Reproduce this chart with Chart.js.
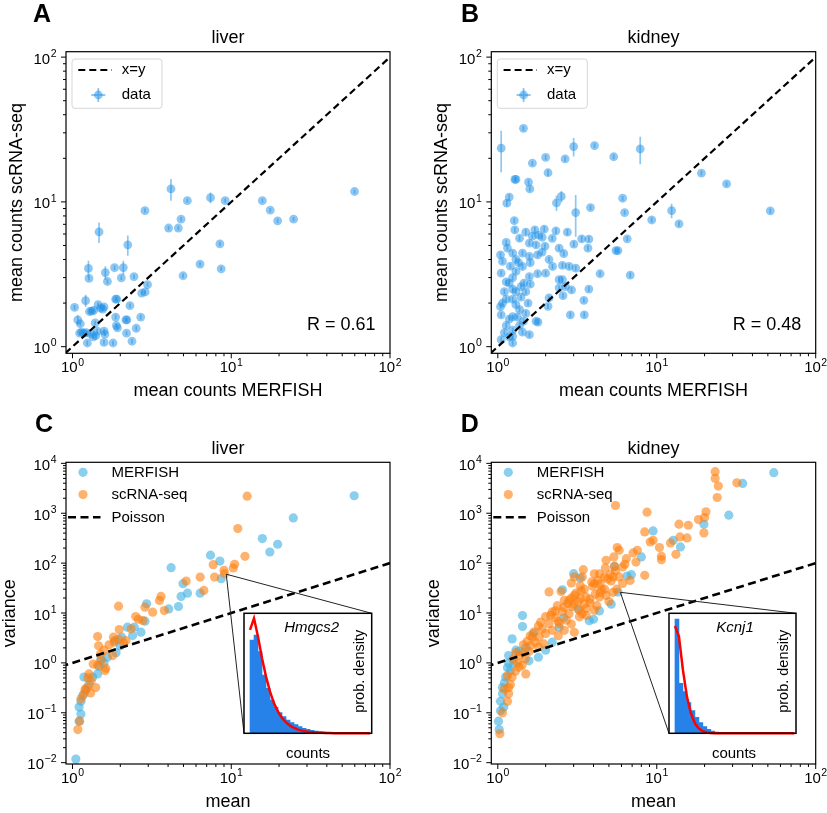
<!DOCTYPE html>
<html><head><meta charset="utf-8">
<script src="https://cdn.jsdelivr.net/npm/chart.js@4.4.1/dist/chart.umd.min.js"></script>
<style>
html,body{margin:0;padding:0;background:#fff;}
#wrap{position:relative;width:827px;height:813px;overflow:hidden;background:#fff;}
canvas{position:absolute;}
</style></head><body>
<div id="wrap">
<canvas id="cA" width="414" height="406" style="left:0px;top:0px"></canvas>
<canvas id="cB" width="413" height="406" style="left:414px;top:0px"></canvas>
<canvas id="cC" width="414" height="407" style="left:0px;top:406px"></canvas>
<canvas id="cD" width="413" height="407" style="left:414px;top:406px"></canvas>
<canvas id="iC" width="140" height="160" style="left:240px;top:605px"></canvas>
<canvas id="iD" width="140" height="160" style="left:665px;top:605px"></canvas>
</div>
<script>
// ---------------- DATA ----------------
// Panel A: liver, mean counts MERFISH (x) vs scRNA-seq (y), with y error
const liverCmpX = [4.17,7.4,1.47,2.23,1.26,1.61,2.09,1.21,1.08,
  59.8,5.29,9.16,15.7,17.6,19.6,24.7,
  2.86,4.03,4.64,4.83,8.48,6.36,8.64,4.97,
  1.27,1.66,1.84,2.03,2.44,2.97,2.73,2.87,
  1.03,1.45,1.58,1.32,1.36,1.87,1.9,2.3,
  1.12,1.39,1.87,1.89,2.2,2.17,2.69,1.92,
  1.11,1.18,1.22,1.3,1.4,1.43,1.58,1.35,
  1.24,1.58,1.8,2.19,2.52,2.37,1.14,1.5,1.55,1.28,1.6];
const liverCmpY = [12.3,10.7,6.2,5.05,3.47,3.25,3.52,2.08,1.53,
  11.8,10.2,10.2,10.2,8.77,7.4,7.6,
  8.7,6.6,6.6,7.6,5.13,3.72,3.45,3.09,
  2.96,2.82,3.51,2.99,3.05,2.68,2.34,2.39,
  1.87,1.95,1.88,1.76,1.78,2.13,2.13,1.92,
  1.44,1.46,1.6,1.4,1.53,1.53,1.6,1.35,
  1.24,1.24,1.25,1.23,1.19,1.28,1.28,1.17,
  1.06,1.07,1.06,1.24,1.34,1.09,1.26,1.85,1.82,1.75,1.22];
const liverCmpErr = [2.1,0.9,1.0,0.8,0.45,0.35,0.4,0.2,0.12,
  0.4,0.35,0.35,0.35,0.3,0.25,0.25,
  0.3,0.22,0.22,0.26,0.18,0.13,0.12,0.11,
  0.1,0.1,0.12,0.1,0.1,0.09,0.08,0.08,
  0.07,0.07,0.07,0.06,0.06,0.07,0.07,0.07,
  0.05,0.05,0.06,0.05,0.05,0.05,0.06,0.05,
  0.04,0.04,0.04,0.04,0.04,0.05,0.05,0.04,
  0.04,0.04,0.04,0.04,0.05,0.04,0.04,0.06,0.06,0.06,0.04];
const liverR = 'R = 0.61';

// Panel B: kidney
const kidneyCmpX = [1.05,3.0,7.87,12.4,3.09,2.51,2.34,
  1.45,4.06,5.36,2.65,2.0,1.65,2.07,1.3,1.28,1.56,1.59,19.1,27.5,51.8,13.8,9.3,6.1,6.28,6.52,5.54,5.7,4.4,6.81,3.83,1.18,1.14,1.27,1.28,
  2.74,2.32,1.96,1.71,1.5,3.74,3.37,3.01,2.43,1.98,1.74,1.37,1.13,1.58,3.69,1.04,1.07,1.24,1.43,1.58,1.78,2.55,2.81,3.09,2.21,2.0,1.78,1.58,1.43,1.3,1.05,
  2.43,2.55,2.67,2.91,2.43,3.74,2.57,2.1,2.07,3.48,2.86,3.5,1.74,1.79,1.58,1.24,1.05,1.18,1.13,1.05,1.04,1.24,1.37,1.43,1.24,1.18,1.3,1.4,1.24,1.13,1.07,1.5,1.37,1.5,1.24,1.13,1.3,1.46,1.55,1.18,1.1,1.24,1.33,1.24,
  1.2,1.35,1.6,1.9,2.2,1.65,1.9,2.6,1.1,1.4,1.6,1.3,1.45,1.15,1.8,2.1];
const kidneyCmpY = [23.5,24.1,23.2,8.7,8.44,10.9,9.84,
  32.2,24.5,20.5,19.8,20.3,18.5,15.9,14.3,14.3,13.7,12.3,15.8,13.3,8.67,7.05,7.5,10.6,8.44,5.56,4.61,4.61,3.19,3.12,9.14,10.8,9.8,7.43,6.41,
  6.18,6.31,6.48,6.41,6.18,5.53,5.56,5.11,4.79,4.94,5.05,5.61,5.25,5.19,4.79,4.31,3.88,4.43,4.43,4.2,4.31,3.64,3.58,3.49,3.58,3.22,3.19,3.05,3.58,3.31,3.22,
  2.9,2.9,2.6,2.47,2.55,2.5,2.25,2.17,1.9,2.09,1.66,1.66,1.5,1.48,1.21,1.06,1.12,1.17,1.4,1.66,1.89,1.61,1.4,1.26,2.5,2.75,2.4,2.6,2.13,2.13,2.0,2.4,1.8,1.7,3.0,2.8,4.0,2.75,2.0,1.55,1.25,1.3,1.6,1.18,
  3.6,3.8,3.8,4.5,5.6,5.8,5.7,4.4,2.4,2.2,2.7,1.95,1.5,4.8,5.9,4.0];
const kidneyCmpErr = [7.5,3.5,5,1,2.7,1,1.2,
  1.2,0.9,0.8,0.8,0.8,0.7,0.8,0.5,0.5,0.5,0.5,0.6,0.5,0.35,0.3,0.3,0.4,0.3,0.22,0.18,0.18,0.13,0.13,0.35,0.5,0.5,0.3,0.3,
  0.3,0.3,0.3,0.3,0.3,0.25,0.25,0.22,0.2,0.2,0.22,0.25,0.22,0.22,0.2,0.18,0.16,0.18,0.18,0.17,0.18,0.15,0.15,0.14,0.15,0.13,0.13,0.12,0.15,0.13,0.13,
  0.12,0.12,0.1,0.1,0.1,0.1,0.09,0.09,0.08,0.08,0.07,0.07,0.06,0.06,0.05,0.04,0.05,0.05,0.06,0.07,0.08,0.06,0.06,0.05,0.1,0.11,0.1,0.1,0.09,0.09,0.08,0.1,0.07,0.07,0.12,0.11,0.16,0.11,0.08,0.06,0.05,0.05,0.06,0.05,
  0.15,0.15,0.15,0.18,0.22,0.23,0.23,0.18,0.1,0.09,0.11,0.08,0.06,0.19,0.24,0.16];
const kidneyR = 'R = 0.48';

// Panel C: liver mean vs variance
const liverMerMean = [59.5,24.6,15.7,19.6,17.5,7.4,8.48,4.18,8.64,4.97,5.3,4.83,6.37,4.65,4.04,2.93,2.86,2.45,2.7,2.22,2.39,2.04,1.85,2.0,1.88,1.66,1.58,1.47,1.44,1.34,1.27,1.21,1.16,1.13,1.1,1.13,1.1,1.05,1.18,1.51];
const liverMerVar  = [2240,807,311,239,167,144,110,81,48.7,38.7,25,21.5,25,13.5,12.1,15.3,6.85,5.2,4.12,5.2,3.53,3.27,2.8,2.2,1.6,1.3,1.0,0.85,0.6,0.52,0.37,0.28,0.22,0.17,0.13,0.094,0.068,0.0118,0.52,1.2];
const liverScMean = [12.6,11.0,12.2,10.5,10.3,9.0,9.07,7.7,7.85,6.37,6.72,5.2,3.61,3.53,3.79,3.2,2.86,2.77,1.95,1.97,2.34,1.44,1.81,1.83,2.17,1.46,1.58,1.79,1.51,1.62,1.6,1.44,1.27,1.31,1.24,1.18,1.13,1.11,1.08,1.4,2.6,2.5,1.95,2.1,1.7,1.5,1.35,1.25,1.2,1.3];
const liverScVar  = [2200,493,137,94.6,79.8,71.6,61.4,93,52.6,52.6,28.4,43.7,21.5,17.9,11.2,10.4,13.1,7.08,13.7,4.67,4.81,3.37,3.27,2.6,2.8,2.2,1.8,1.4,1.1,0.78,0.7,0.9,0.6,0.44,0.32,0.24,0.19,0.068,0.046,0.32,7.5,8.5,3.0,2.5,2.3,1.5,0.95,0.5,0.3,0.25];

// Panel D: kidney mean vs variance
const kidneyMerMean = [54.5,34.7,28.4,19.8,12.7,14.1,9.48,8.0,6.92,5.42,3.0,3.3,5.7,2.55,1.43,1.43,1.23,1.67,1.36,1.17,1.26,1.12,1.07,1.04,1.01,1.02,1.04,1.2,2.0,2.2,2.43,3.76,4.36,5.17,1.8,1.57,1.17,1.09,1.07,1.3,1.5,2.6,3.2,4.0,6.5,1.15,1.1];
const kidneyMerVar  = [6490,3960,914,602,287,211,443,133,58.6,86,61.4,50.2,26.3,29.2,8.9,5.36,3.03,3.93,1.7,1.4,1.0,0.52,0.32,0.17,0.068,0.046,0.11,0.7,1.8,2.6,5.1,7.0,11,15,1.3,1.1,1.0,0.13,0.24,1.8,2.0,8,12,7.5,55,0.8,0.4];
const kidneyScMean = [23.3,23.3,24.4,31.9,24.0,5.5,8.69,20.4,18.3,20.0,
  13.8,15.8,19.8,8.4,9.48,9.1,14.0,15.5,12.2,10.4,
  10.7,10.7,13.2,7.55,5.64,5.8,5.37,4.8,6.43,7.4,
  6.1,5.42,8.4,4.75,4.36,4.05,3.45,3.4,3.03,5.3,
  5.8,4.69,4.26,5.17,6.1,4.06,3.95,3.34,2.1,2.5,
  3.03,2.81,3.59,4.36,4.8,5.0,5.3,2.37,2.62,2.94,
  3.26,3.59,4.05,3.26,3.4,2.81,2.55,2.2,1.86,2.1,
  2.43,2.7,3.03,2.62,2.2,2.0,1.82,1.65,1.53,1.72,
  1.95,1.57,1.8,1.37,1.49,1.36,1.29,1.5,1.23,1.2,
  1.17,1.15,1.07,1.03,1.33,1.42,1.17,
  3.0,3.8,4.5,2.3,2.9,3.6,4.2,5.6,6.8,1.9,2.4,1.6,2.9,3.3,4.9,1.45,
  2.9,3.2,3.5,3.8,4.1,4.4,4.7,3.1,2.6,2.3,2.0,1.8,1.7,2.4,3.5,3.9,4.4,5.1,5.5,6.3,2.75,3.3,2.15,1.6,1.45,1.3,1.25,1.15,1.1,7.1];
const kidneyScVar = [6800,4990,3500,4080,2070,1430,1050,1070,748,820,
  603,575,404,423,287,265,335,320,254,205,
  137,117,150,181,205,181,133,114,123,105,
  84,87,57,80,61,61,74,53,53,53,
  53,53,45,44,39,39,34.5,28,26.5,27,
  22.5,18,21,21,22.5,17,26,14,18,13.4,
  11.3,12.3,11.3,8.4,9.7,9.7,10.5,10.5,6.6,6.1,
  6.1,7.2,4.1,4.5,4.5,3.9,3.3,3.3,2.7,2.6,
  2.4,1.7,2.1,1.4,1.2,0.82,0.68,0.6,0.52,0.37,
  0.24,0.17,0.1,0.038,1.0,0.9,0.32,
  15,16,30,8,6,9,14,30,45,4.8,3.5,2.2,40,35,48,1.6,
  20,17,15,19,24,26,30,25,13,11,8.5,5.5,4.2,6.8,30,42,38,60,70,95,15.5,19.5,9,3.5,2.3,1.6,1.2,0.55,0.3,160];

// reference lines (x = y  /  Poisson: variance = mean)
const identityX = [0.5, 200];
const identityY = [0.5, 200];

// insets: count histograms and fits
const countsGrid = [0,1,2,3,4,5,6,7,8,9,10,11,12,13,14,15,16,17,18,19,20,21,22,23,24,25,26,27,28,29,30];
const hmgcs2Hist = [280,295,245,175,135,100,78,62,50,40,32,26,20,15,12,9,7,5,4,3,2,2,1,1,1];
const hmgcs2Fit  = [310,345,290,225,170,125,90,65,46,33,23,16,11,8,5.5,4,2.8,2,1.4,1,0.7,0.5,0.3,0.2,0.1,0.05,0,0,0,0,0];
const kcnj1Hist  = [343,150,125,92,68,48,32,20,12,7,4,2,1,1];
const kcnj1Fit   = [322,290,190,110,60,30,14,6,2.5,1,0.4,0.1,0,0,0,0,0,0,0,0,0,0,0,0,0,0,0,0,0,0,0];
const hmgcs2Anchor = {x: 9.3, y: 60};
const kcnj1Anchor  = {x: 5.9, y: 26};

// ticks
const xMajor = [1, 10, 100];          const xExp = ['0','1','2'];
const abYMajor = [1, 10, 100];        const abYExp = ['0','1','2'];
const cdYMajor = [0.01,0.1,1,10,100,1000,10000]; const cdYExp = ['\u22122','\u22121','0','1','2','3','4'];
const minorSubs = [2,3,4,5,6,7,8,9];

// ---------------- STYLE ----------------
const FONT = '"Liberation Sans", Arial, Helvetica, "DejaVu Sans", sans-serif';
const BLUE_AB = 'rgba(30,144,230,0.5)';
const BLUE_CD = 'rgba(60,175,225,0.6)';
const ORANGE = 'rgba(255,127,14,0.6)';

function pts(xs, ys){ return xs.map((x,i)=>({x:x, y:ys[i]})); }

function supLabel(ctx, exp, x, y, align){
  ctx.font = '15px ' + FONT; const w1 = ctx.measureText('10').width;
  ctx.font = '10.5px ' + FONT; const w2 = ctx.measureText(exp).width;
  const W = w1 + w2 + 0.5;
  const x0 = align === 'center' ? x - W/2 : x - W;
  ctx.textAlign = 'left'; ctx.textBaseline = 'alphabetic';
  ctx.font = '15px ' + FONT; ctx.fillText('10', x0, y);
  ctx.font = '10.5px ' + FONT; ctx.fillText(exp, x0 + w1 + 0.5, y - 6.8);
}

function drawDeco(chart, cfg){
  const ctx = chart.ctx, a = chart.chartArea, xs = chart.scales.x, ys = chart.scales.y;
  ctx.save();
  ctx.fillStyle = '#000'; ctx.strokeStyle = '#000';
  if (cfg.anchor){
    const px = xs.getPixelForValue(cfg.anchor.x), py = ys.getPixelForValue(cfg.anchor.y);
    ctx.lineWidth = 1; ctx.strokeStyle = '#222';
    ctx.beginPath();
    ctx.moveTo(px, py); ctx.lineTo(cfg.insetBL[0] - cfg.off[0], cfg.insetBL[1] - cfg.off[1]);
    ctx.moveTo(px, py); ctx.lineTo(cfg.insetTR[0] - cfg.off[0], cfg.insetTR[1] - cfg.off[1]);
    ctx.stroke();
    ctx.strokeStyle = '#000';
  }
  ctx.lineWidth = 1.2;
  ctx.strokeRect(a.left, a.top, a.right - a.left, a.bottom - a.top);
  ctx.lineWidth = 1;
  const ticks = (scale, majors, horiz) => {
    majors.forEach(m => {
      [1].concat(minorSubs).forEach(k => {
        const v = m * k;
        if (v < scale.min * 0.9999 || v > scale.max * 1.0001) return;
        const p = scale.getPixelForValue(v);
        const len = k === 1 ? 5 : 3;
        ctx.beginPath();
        if (horiz){ ctx.moveTo(p, a.bottom); ctx.lineTo(p, a.bottom + len); }
        else { ctx.moveTo(a.left, p); ctx.lineTo(a.left - len, p); }
        ctx.stroke();
      });
    });
  };
  ticks(xs, xMajor, true);
  ticks(ys, cfg.yMajor, false);
  xMajor.forEach((v,i) => supLabel(ctx, xExp[i], xs.getPixelForValue(v), a.bottom + 19, 'center'));
  cfg.yMajor.forEach((v,i) => supLabel(ctx, cfg.yExp[i], a.left - 9.5, ys.getPixelForValue(v) + 6.5, 'right'));
  ctx.font = '18px ' + FONT; ctx.textAlign = 'center'; ctx.textBaseline = 'alphabetic';
  ctx.fillText(cfg.title, (a.left + a.right)/2, a.top - 8.4);
  ctx.fillText(cfg.xlabel, (a.left + a.right)/2, a.bottom + 43);
  ctx.save();
  ctx.translate(a.left - cfg.ylabOff, (a.top + a.bottom)/2);
  ctx.rotate(-Math.PI/2);
  ctx.fillText(cfg.ylabel, 0, 0);
  ctx.restore();
  ctx.font = 'bold 25px ' + FONT; ctx.textAlign = 'left';
  ctx.fillText(cfg.letter, cfg.letterX, a.top - 30);
  if (cfg.rText){
    ctx.font = '18px ' + FONT; ctx.textAlign = 'right';
    ctx.fillText(cfg.rText, a.right - 14.5, a.bottom - 23);
  }
  ctx.textAlign = 'left'; ctx.textBaseline = 'middle';
  if (cfg.legend === 'ab'){
    const L = a.left, T = a.top;
    ctx.beginPath();
    if (ctx.roundRect) ctx.roundRect(L + 6, T + 7.3, 90, 49.3, 3); else ctx.rect(L + 6, T + 7.3, 90, 49.3);
    ctx.fillStyle = 'rgba(255,255,255,0.8)'; ctx.fill();
    ctx.strokeStyle = '#d6d6d6'; ctx.lineWidth = 1; ctx.stroke();
    ctx.strokeStyle = '#000'; ctx.lineWidth = 2.2; ctx.setLineDash([7,4]);
    ctx.beginPath(); ctx.moveTo(L + 12.3, T + 18.3); ctx.lineTo(L + 45.7, T + 18.3); ctx.stroke();
    ctx.setLineDash([]);
    const mx = L + 32.3, my = T + 43.3;
    ctx.strokeStyle = BLUE_AB; ctx.lineWidth = 1.8;
    ctx.beginPath(); ctx.moveTo(mx - 7, my); ctx.lineTo(mx + 7, my); ctx.moveTo(mx, my - 7); ctx.lineTo(mx, my + 7); ctx.stroke();
    ctx.fillStyle = BLUE_AB; ctx.beginPath(); ctx.arc(mx, my, 4.4, 0, Math.PI*2); ctx.fill();
    ctx.fillStyle = '#000'; ctx.font = '15px ' + FONT;
    ctx.fillText('x=y', L + 55.7, T + 18.3);
    ctx.fillText('data', L + 55.7, T + 43.3);
  } else if (cfg.legend === 'cd'){
    const L = a.left, T = a.top;
    ctx.font = '15px ' + FONT;
    ctx.fillStyle = BLUE_CD; ctx.beginPath(); ctx.arc(L + 17, T + 10, 4.6, 0, Math.PI*2); ctx.fill();
    ctx.fillStyle = ORANGE; ctx.beginPath(); ctx.arc(L + 17, T + 32.3, 4.6, 0, Math.PI*2); ctx.fill();
    ctx.strokeStyle = '#000'; ctx.lineWidth = 2.6; ctx.setLineDash([8,4.5]);
    ctx.beginPath(); ctx.moveTo(L + 2, T + 55); ctx.lineTo(L + 34.5, T + 55); ctx.stroke();
    ctx.setLineDash([]);
    ctx.fillStyle = '#000';
    ctx.fillText('MERFISH', L + 45.5, T + 10.5);
    ctx.fillText('scRNA-seq', L + 45.5, T + 32.8);
    ctx.fillText('Poisson', L + 45.5, T + 55.5);
  }
  ctx.restore();
}

function drawErrors(chart, cfg){
  if (!cfg.err) return;
  const ctx = chart.ctx, a = chart.chartArea, xs = chart.scales.x, ys = chart.scales.y;
  ctx.save();
  ctx.beginPath(); ctx.rect(a.left, a.top, a.right - a.left, a.bottom - a.top); ctx.clip();
  ctx.strokeStyle = BLUE_AB; ctx.lineWidth = 1.7;
  cfg.errX.forEach((x,i) => {
    const px = xs.getPixelForValue(x);
    const y = cfg.errY[i], e = cfg.err[i];
    ctx.beginPath();
    ctx.moveTo(px, ys.getPixelForValue(y - e));
    ctx.lineTo(px, ys.getPixelForValue(y + e));
    ctx.stroke();
  });
  ctx.restore();
}

function makeMain(id, cfg){
  return new Chart(document.getElementById(id), {
    type: 'scatter',
    data: { datasets: cfg.datasets },
    options: {
      responsive: false, animation: false, events: [],
      layout: { padding: cfg.padding },
      plugins: { legend: {display:false}, tooltip: {enabled:false}, title: {display:false} },
      scales: {
        x: { type:'logarithmic', min: 0.91, max: 100, display: false },
        y: { type:'logarithmic', min: cfg.yMin, max: cfg.yMax, display: false }
      }
    },
    plugins: [{ id:'deco_' + id,
      beforeDatasetsDraw(c){ drawErrors(c, cfg); },
      afterDraw(c){ drawDeco(c, cfg); } }]
  });
}

function lineDs(dash, width){
  return { data: pts(identityX, identityY), showLine: true, borderColor: '#000', borderWidth: width,
    borderDash: dash, pointRadius: 0, fill: false, order: 0, clip: 0 };
}
function dotDs(xs, ys, color, r, order){
  return { data: pts(xs, ys), backgroundColor: color, borderWidth: 0, pointRadius: r,
    pointHoverRadius: r, showLine: false, order: order };
}

makeMain('cA', {
  padding: {left:66, right:24, top:51.7, bottom:52.7},
  yMin: 0.9, yMax: 109, yMajor: abYMajor, yExp: abYExp,
  datasets: [lineDs([7,4], 2.2), dotDs(liverCmpX, liverCmpY, BLUE_AB, 4.4, 1)],
  err: liverCmpErr, errX: liverCmpX, errY: liverCmpY,
  title: 'liver', xlabel: 'mean counts MERFISH', ylabel: 'mean counts scRNA-seq', ylabOff: 44.5,
  letter: 'A', letterX: 33, rText: liverR, legend: 'ab'
});
makeMain('cB', {
  padding: {left:77.3, right:11.3, top:51.7, bottom:52.7},
  yMin: 0.9, yMax: 109, yMajor: abYMajor, yExp: abYExp,
  datasets: [lineDs([7,4], 2.2), dotDs(kidneyCmpX, kidneyCmpY, BLUE_AB, 4.4, 1)],
  err: kidneyCmpErr, errX: kidneyCmpX, errY: kidneyCmpY,
  title: 'kidney', xlabel: 'mean counts MERFISH', ylabel: 'mean counts scRNA-seq', ylabOff: 44.3,
  letter: 'B', letterX: 47, rText: kidneyR, legend: 'ab'
});
makeMain('cC', {
  padding: {left:66, right:24, top:56.3, bottom:49},
  yMin: 0.0094, yMax: 10500, yMajor: cdYMajor, yExp: cdYExp,
  datasets: [lineDs([8,4.5], 2.6), dotDs(liverScMean, liverScVar, ORANGE, 4.6, 1), dotDs(liverMerMean, liverMerVar, BLUE_CD, 4.6, 2)],
  title: 'liver', xlabel: 'mean', ylabel: 'variance', ylabOff: 51,
  letter: 'C', letterX: 35, legend: 'cd',
  anchor: hmgcs2Anchor, off: [0, 406], insetBL: [244, 733.3], insetTR: [371.7, 613.3]
});
makeMain('cD', {
  padding: {left:77.3, right:11.3, top:56.3, bottom:49},
  yMin: 0.0094, yMax: 10500, yMajor: cdYMajor, yExp: cdYExp,
  datasets: [lineDs([8,4.5], 2.6), dotDs(kidneyScMean, kidneyScVar, ORANGE, 4.6, 1), dotDs(kidneyMerMean, kidneyMerVar, BLUE_CD, 4.6, 2)],
  title: 'kidney', xlabel: 'mean', ylabel: 'variance', ylabOff: 52.3,
  letter: 'D', letterX: 46.7, legend: 'cd',
  anchor: kcnj1Anchor, off: [414, 406], insetBL: [669, 733.3], insetTR: [796, 613.3]
});

function makeInset(id, cfg){
  const binX = countsGrid.slice(0, cfg.hist.length).map(k => k + 0.5);
  return new Chart(document.getElementById(id), {
    type: 'bar',
    data: { datasets: [
      { type: 'line', data: pts(countsGrid, cfg.fit), borderColor: '#ff0000', borderWidth: 2.5,
        pointRadius: 0, fill: false, tension: 0, order: 0, clip: 2 },
      { type: 'bar', data: pts(binX, cfg.hist), backgroundColor: 'rgb(38,130,232)', borderWidth: 0,
        barPercentage: 1, categoryPercentage: 1, order: 1 }
    ]},
    options: {
      responsive: false, animation: false, events: [],
      layout: { padding: cfg.padding },
      plugins: { legend: {display:false}, tooltip: {enabled:false} },
      scales: {
        x: { type: 'linear', min: -1.5, max: 30.4, offset: false, display: false },
        y: { type: 'linear', min: 0, max: 360, display: false }
      }
    },
    plugins: [{ id: 'ins_' + id,
      beforeDatasetsDraw(c){
        const a = c.chartArea, ctx = c.ctx;
        ctx.save(); ctx.fillStyle = '#fff'; ctx.fillRect(a.left, a.top, a.right - a.left, a.bottom - a.top); ctx.restore();
      },
      afterDraw(c){
        const a = c.chartArea, ctx = c.ctx;
        ctx.save();
        ctx.strokeStyle = '#000'; ctx.lineWidth = 1.5;
        ctx.strokeRect(a.left, a.top, a.right - a.left, a.bottom - a.top);
        ctx.fillStyle = '#000'; ctx.textBaseline = 'alphabetic'; ctx.textAlign = 'center';
        ctx.font = 'italic 15px ' + FONT;
        ctx.fillText(cfg.gene, cfg.geneX, a.top + 19);
        ctx.font = '15px ' + FONT;
        ctx.fillText('counts', cfg.countsX, a.bottom + 25);
        ctx.save();
        ctx.translate(a.right - 8, (a.top + a.bottom)/2 - 2);
        ctx.rotate(-Math.PI/2);
        ctx.font = '14.5px ' + FONT;
        ctx.fillText('prob. density', 0, 0);
        ctx.restore();
        ctx.restore();
      }
    }]
  });
}
makeInset('iC', { hist: hmgcs2Hist, fit: hmgcs2Fit, gene: 'Hmgcs2', geneX: 71.7, countsX: 68,
  padding: {left:4, top:8.3, right:8.3, bottom:31.7} });
makeInset('iD', { hist: kcnj1Hist, fit: kcnj1Fit, gene: 'Kcnj1', geneX: 70, countsX: 69,
  padding: {left:4, top:8.3, right:9, bottom:31.7} });
</script>
</body></html>
